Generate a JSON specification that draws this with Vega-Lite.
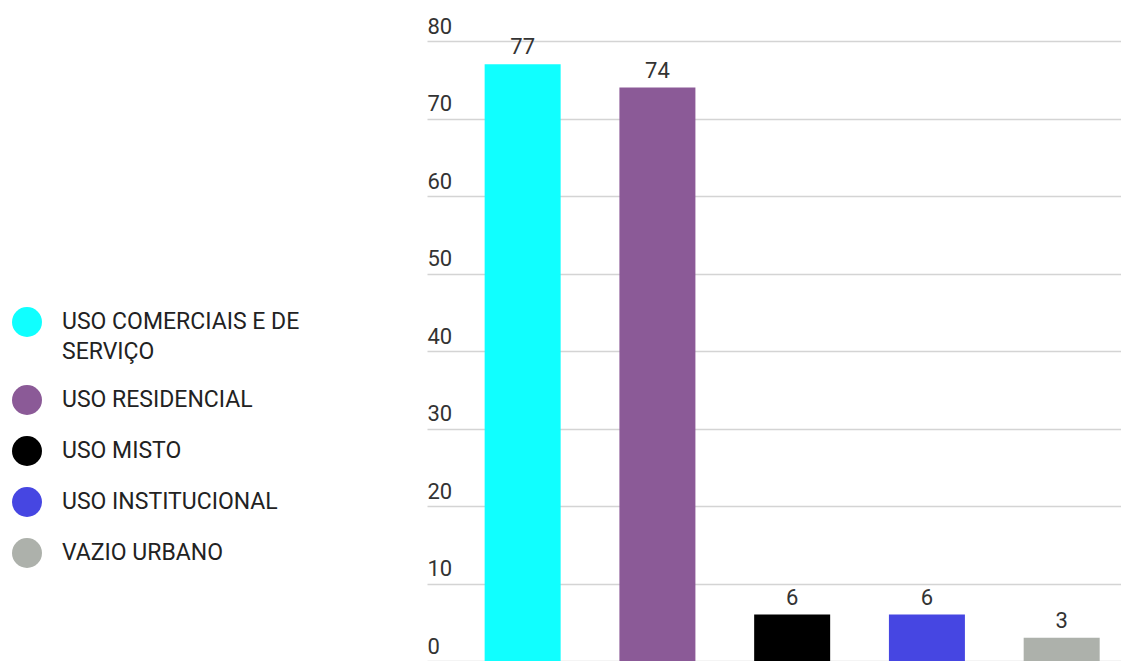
{
  "$schema": "https://vega.github.io/schema/vega-lite/v6.json",
  "width": 694,
  "height": 620,
  "autosize": {"type": "none"},
  "padding": {"left": 427, "top": 41, "right": 0, "bottom": 0},
  "background": "#ffffff",
  "config": {
    "view": {"stroke": null},
    "font": "Roboto",
    "style": {"guide-label": {"lineHeight": 30}}
  },
  "data": {
    "values": [
      {"categoria": "USO COMERCIAIS E DE SERVIÇO", "valor": 77},
      {"categoria": "USO RESIDENCIAL", "valor": 74},
      {"categoria": "USO MISTO", "valor": 6},
      {"categoria": "USO INSTITUCIONAL", "valor": 6},
      {"categoria": "VAZIO URBANO", "valor": 3}
    ]
  },
  "encoding": {
    "x": {
      "field": "categoria",
      "type": "nominal",
      "sort": null,
      "axis": null,
      "scale": {"paddingInner": 0.436, "paddingOuter": 0.293, "align": 0.73}
    },
    "y": {
      "field": "valor",
      "type": "quantitative",
      "scale": {"domain": [0, 80]},
      "axis": {
        "values": [0, 10, 20, 30, 40, 50, 60, 70, 80],
        "title": null,
        "grid": true,
        "gridColor": "#d4d4d4",
        "gridWidth": 1.5,
        "domain": false,
        "ticks": false,
        "tickSize": 0,
        "labelPadding": 0,
        "labelAlign": "left",
        "labelBaseline": "alphabetic",
        "labelOffset": -8,
        "labelFlush": false,
        "labelOverlap": false,
        "labelFontSize": 22,
        "labelColor": "#333333"
      }
    }
  },
  "layer": [
    {
      "mark": {"type": "bar"},
      "encoding": {
        "color": {
          "field": "categoria",
          "type": "nominal",
          "sort": null,
          "scale": {
            "domain": ["USO COMERCIAIS E DE SERVIÇO", "USO RESIDENCIAL", "USO MISTO", "USO INSTITUCIONAL", "VAZIO URBANO"],
            "range": ["#10ffff", "#8b5a97", "#000000", "#4646e2", "#adb1ab"]
          },
          "legend": {
            "orient": "none",
            "legendX": -415,
            "legendY": 266,
            "title": null,
            "padding": 0,
            "symbolType": "circle",
            "symbolSize": 900,
            "symbolStrokeWidth": 0,
            "symbolOpacity": 1,
            "labelFontSize": 23,
            "labelColor": "#222222",
            "labelOffset": 20,
            "labelLimit": 400,
            "rowPadding": 21,
            "labelExpr": "datum.label == 'USO COMERCIAIS E DE SERVIÇO' ? ['USO COMERCIAIS E DE', 'SERVIÇO'] : datum.label"
          }
        }
      }
    },
    {
      "mark": {"type": "text", "baseline": "alphabetic", "dy": -10, "fontSize": 22, "color": "#333333"},
      "encoding": {"text": {"field": "valor", "type": "quantitative"}}
    }
  ]
}
